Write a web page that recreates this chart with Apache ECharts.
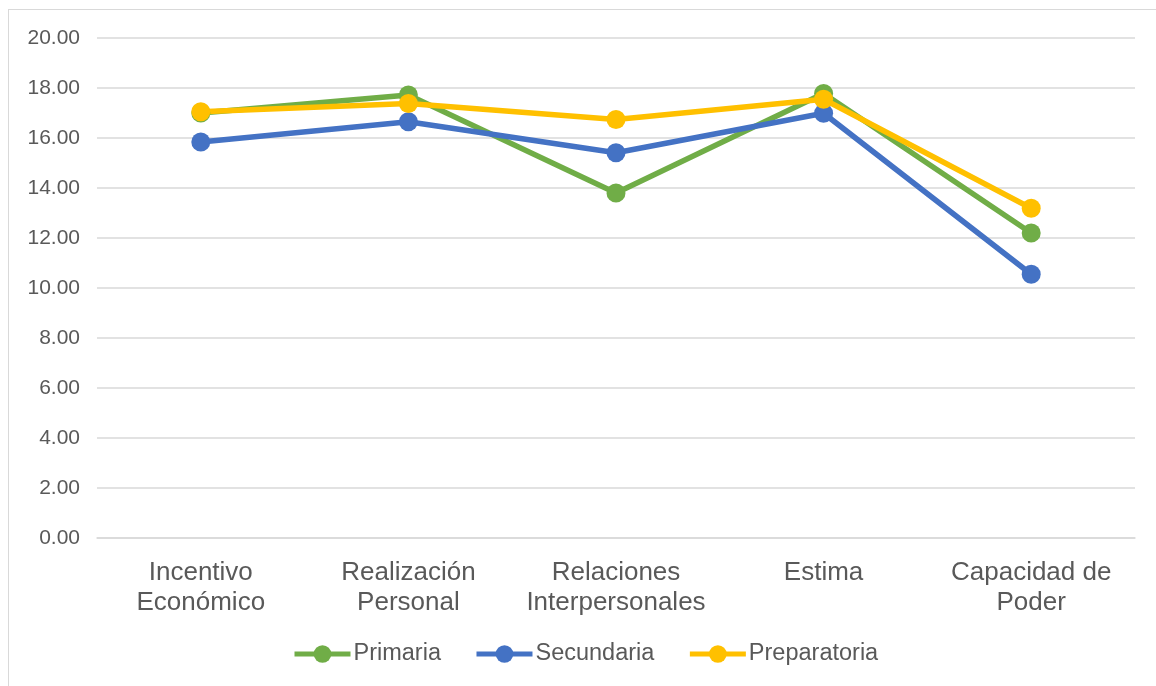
<!DOCTYPE html>
<html>
<head>
<meta charset="utf-8">
<script src="https://cdn.jsdelivr.net/npm/echarts@6/dist/echarts.min.js"></script>
<style>
  html, body { margin: 0; padding: 0; background: #fff; overflow: hidden; }
  #frame { position: absolute; left: 8px; top: 9px; width: 1200px; height: 720px; border: 1.5px solid #d9d9d9; }
  #main { position: absolute; left: 0; top: 0; width: 1156px; height: 686px; }
</style>
</head>
<body>
<div id="frame"></div>
<div id="main"></div>
<script>
// categorias del eje x
var categorias = ["Incentivo\nEconómico", "Realización\nPersonal", "Relaciones\nInterpersonales", "Estima", "Capacidad de\nPoder"];
// valores por nivel
var primaria = [17.0, 17.72, 13.8, 17.78, 12.2];
var secundaria = [15.84, 16.65, 15.41, 16.99, 10.55];
var preparatoria = [17.05, 17.38, 16.74, 17.55, 13.19];

var chart = echarts.init(document.getElementById("main"));

function serie(nombre, datos, color) {
  return {
    name: nombre,
    type: "line",
    data: datos,
    symbol: "circle",
    symbolSize: 19,
    lineStyle: { width: 5.5, color: color },
    itemStyle: { color: color },
    emphasis: { disabled: true },
    animation: false
  };
}

var option = {
  textStyle: { fontFamily: "Liberation Sans, Arial, sans-serif" },
  grid: { left: 97, right: 21, top: 38, bottom: 148 },
  legend: {
    bottom: 15,
    left: 287,
    itemWidth: 56,
    itemHeight: 22,
    itemGap: 33,
    lineStyle: { width: 5 },
    textStyle: { fontSize: 23.5, color: "#595959", padding: [0, 0, 0, -2] },
    data: ["Primaria", "Secundaria", "Preparatoria"]
  },
  xAxis: {
    type: "category",
    data: categorias,
    axisLine: { lineStyle: { color: "#d9d9d9", width: 1.5 } },
    axisTick: { show: false },
    axisLabel: { fontSize: 26, color: "#595959", lineHeight: 30, margin: 20, interval: 0 }
  },
  yAxis: {
    type: "value",
    min: 0,
    max: 20,
    interval: 2,
    axisLine: { show: false },
    axisTick: { show: false },
    splitLine: { lineStyle: { color: "#d9d9d9", width: 1.5 } },
    axisLabel: {
      fontSize: 21,
      color: "#595959",
      margin: 17,
      formatter: function (v) { return v.toFixed(2); }
    }
  },
  series: [
    serie("Primaria", primaria, "#70AD47"),
    serie("Secundaria", secundaria, "#4472C4"),
    serie("Preparatoria", preparatoria, "#FFC000")
  ]
};
chart.setOption(option);
</script>
</body>
</html>
